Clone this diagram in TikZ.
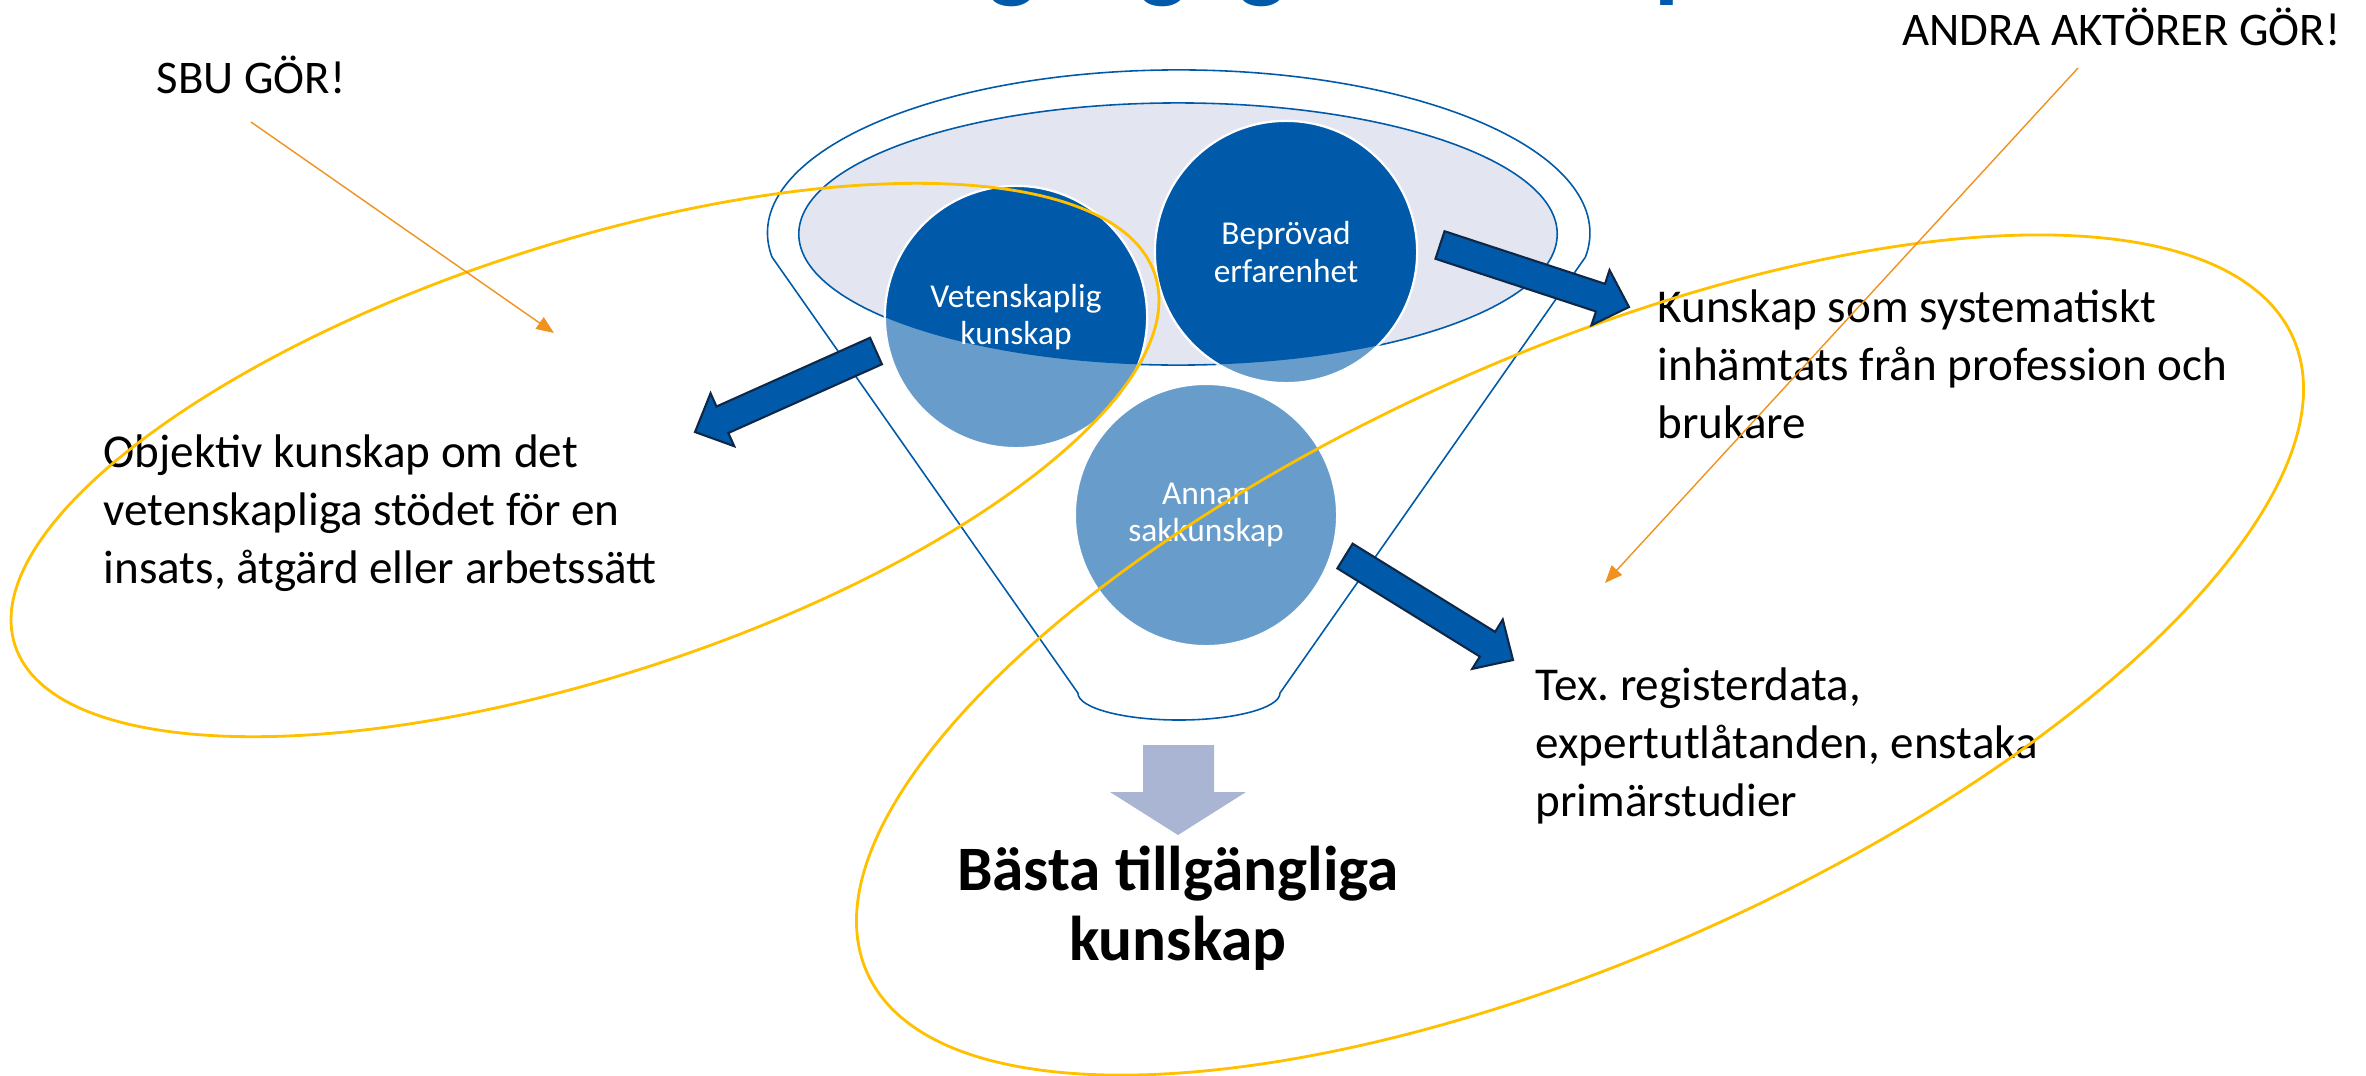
\documentclass[tikz,border=0pt]{standalone}
\usepackage{fontspec}
\setmainfont{Carlito}
\usetikzlibrary{calc,arrows.meta}
\frenchspacing

\definecolor{sbublue}{RGB}{0,90,169}
\definecolor{lightblue}{RGB}{104,157,203}
\definecolor{funnelgray}{RGB}{227,230,240}
\definecolor{navy}{RGB}{16,40,72}
\definecolor{ringyellow}{RGB}{255,192,0}
\definecolor{pointerorange}{RGB}{240,146,30}
\definecolor{lavender}{RGB}{169,181,211}

% breiter Blockpfeil von #1 (Ende) nach #2 (Spitze)
\newcommand{\blockarrow}[2]{%
  \coordinate (ab) at ($(#2)!.30cm!(#1)$);
  \filldraw[blockarrow] ($(#1)!.145cm!90:(#2)$) -- ($(ab)!.145cm!90:(#2)$) -- ($(ab)!.29cm!90:(#2)$) -- (#2)
    -- ($(ab)!.29cm!-90:(#2)$) -- ($(ab)!.145cm!-90:(#2)$) -- ($(#1)!.145cm!-90:(#2)$) -- cycle;
}

\tikzset{
  ball/.style={circle, minimum size=2.62cm, inner sep=0pt, outer sep=0pt, fill=lightblue, draw=white, line width=0.6pt},
  balltext/.style={text=white, align=center, font=\fontsize{9.5}{10.6}\selectfont},
  bodytext/.style={align=left, inner sep=0pt, font=\fontsize{13.4}{16.4}\selectfont},
  shout/.style={inner sep=0pt, font=\fontsize{13.3}{16}\selectfont},
  blockarrow/.style={fill=sbublue, draw=navy, line width=0.6pt, line join=miter},
  ring/.style={draw=ringyellow, line width=0.8pt},
  pointer/.style={draw=pointerorange, line width=0.4pt, -{Triangle[length=5pt,width=4pt]}},
  funnel/.style={draw=sbublue, line width=0.45pt, fill=white}
}

\begin{document}
\begin{tikzpicture}[x=0.01cm, y=-0.01cm]
\useasboundingbox (0,0) rectangle (2366,1075);

% Titel (oben abgeschnitten)
\begin{scope}
\clip (0,0) rectangle (2366,1075);
\node[anchor=base, text=sbublue, font=\fontsize{29}{30}\selectfont\bfseries] (title) at (1166,-11) {Bästa tillgängliga kunskap};
\end{scope}

% Trichter
\draw[funnel] (772,257) arc[start angle=188.47, end angle=-8.47, x radius=4.11cm, y radius=1.63cm]
  -- (1280,693) arc[start angle=0, end angle=-180, x radius=1.01cm, y radius=0.27cm] -- cycle;
\filldraw[fill=funnelgray, draw=sbublue, line width=0.45pt] (1178,234) ellipse [x radius=3.79cm, y radius=1.31cm];

% Kreise
\node[ball] (vet) at (1016,317) {};
\node[ball] (bep) at (1286,252) {};
\node[ball] (annan) at (1206,515) {};
\begin{scope}
\clip (1178,234) ellipse [x radius=3.79cm, y radius=1.31cm];
\foreach \n in {vet,bep}
  \filldraw[fill=sbublue, draw=white, line width=0.6pt] (\n) circle [radius=1.31cm];
\end{scope}
\node[balltext] (vetlabel) at (vet) {Vetenskaplig\\kunskap};
\node[balltext] (beplabel) at (bep) {Beprövad\\erfarenhet};
\node[balltext] (annanlabel) at (annan) {Annan\\sakkunskap};

% Texte (base = letzte Zeile)
\node[bodytext, anchor=base west] (objtext) at (103,583) {Objektiv kunskap om det\\vetenskapliga stödet för en\\insats, åtgärd eller arbetssätt};
\node[bodytext, anchor=base west] (systext) at (1657,438) {Kunskap som systematiskt\\inhämtats från profession och\\brukare};
\node[bodytext, anchor=base west] (regtext) at (1535,816) {Tex. registerdata,\\expertutlåtanden, enstaka\\primärstudier};
\node[shout, anchor=base west] (sbu) at (156,93) {SBU GÖR!};
\node[shout, anchor=base east] (andra) at (2341,45) {ANDRA AKTÖRER GÖR!};
\node[align=center, inner sep=0pt, anchor=base, font=\fontsize{18}{19.9}\selectfont\bfseries] (basta) at (1178,960) {Bästa tillgängliga\\kunskap};

% gelbe Ringe
\draw[ring, rotate around={18:(585,460)}] (585,460) ellipse [x radius=5.99cm, y radius=2.16cm];
\draw[ring, rotate around={24:(1580,655)}] (1580,655) ellipse [x radius=7.80cm, y radius=3.01cm];

% Blockpfeile
\coordinate (vetend) at (876,351);  \coordinate (vettip) at (695,432);
\coordinate (bepend) at (1440,245); \coordinate (beptip) at (1629,307);
\coordinate (annend) at (1345,556); \coordinate (anntip) at (1513,660);
\blockarrow{vetend}{vettip}
\blockarrow{bepend}{beptip}
\blockarrow{annend}{anntip}

% Pfeil nach unten
\fill[lavender] (1143,745) -- (1214,745) -- (1214,792) -- (1246,792) -- (1178,835) -- (1110,792) -- (1143,792) -- cycle;

% Hinweispfeile
\coordinate (sbustart) at (251,122);   \coordinate (sbuend) at (554,333);
\coordinate (andrastart) at (2078,68); \coordinate (andraend) at (1605,583);
\draw[pointer] (sbustart) -- (sbuend);
\draw[pointer] (andrastart) -- (andraend);
\end{tikzpicture}
\end{document}
